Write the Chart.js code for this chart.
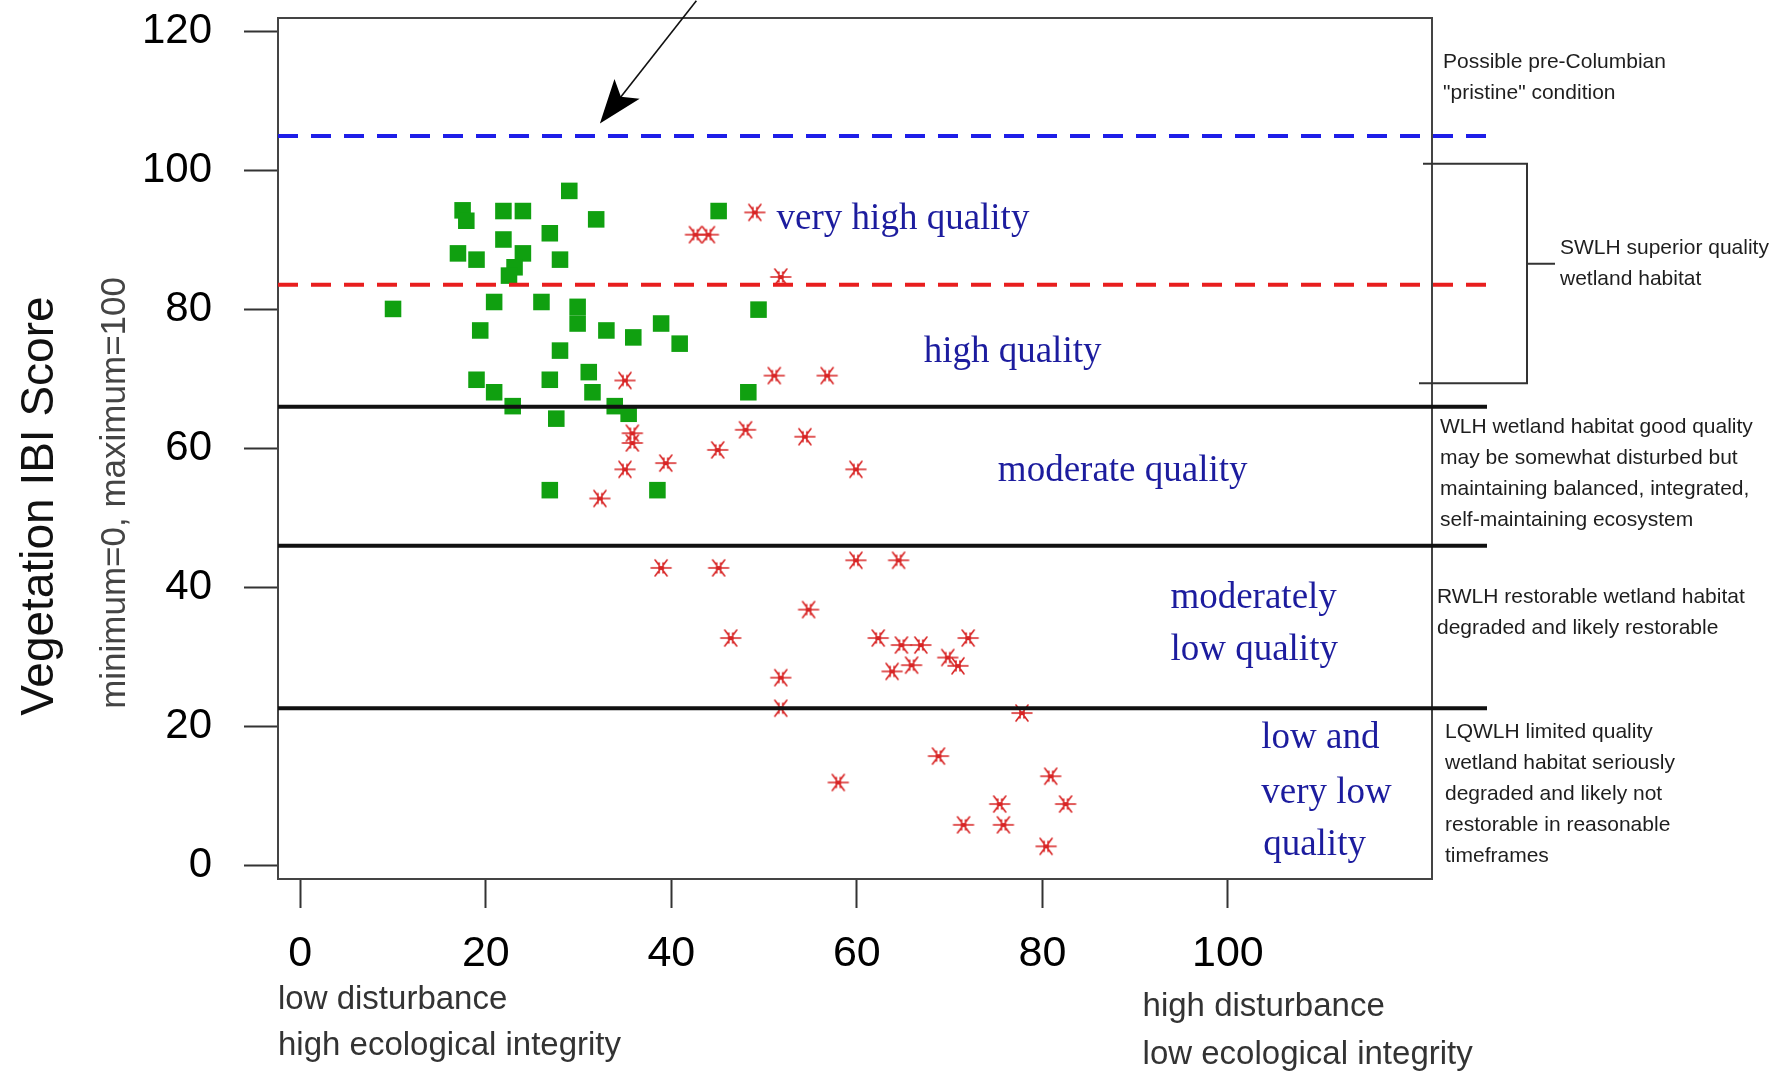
<!DOCTYPE html>
<html>
<head>
<meta charset="utf-8">
<title>Vegetation IBI Score vs disturbance</title>
<script src="https://cdn.jsdelivr.net/npm/chart.js@4.4.1/dist/chart.umd.min.js"></script>
<style>
  html, body { margin: 0; padding: 0; background: #ffffff; }
  #wrap { width: 1778px; height: 1072px; }
  canvas { display: block; }
</style>
</head>
<body>
<div id="wrap"><canvas id="ibi" width="1778" height="1072"></canvas></div>
<script>
// Least-disturbed (reference) wetlands: disturbance score vs vegetation IBI
const referenceX = [29.0, 17.5, 17.9, 21.9, 24.0, 31.9, 45.1, 26.9, 21.9, 17.0,
                    19.0, 24.0, 28.0, 23.1, 22.5, 10.0, 20.9, 26.0, 29.9, 29.9,
                    49.4, 19.4, 33.0, 35.9, 38.9, 40.9, 28.0, 19.0, 26.9, 31.1,
                    20.9, 31.5, 48.3, 22.9, 33.9, 35.4, 27.6, 26.9, 38.5];
const referenceY = [97.1, 94.3, 92.8, 94.2, 94.2, 93.0, 94.2, 91.0, 90.1, 88.1,
                    87.2, 88.1, 87.2, 86.1, 84.9, 80.1, 81.1, 81.1, 80.4, 78.0,
                    80.0, 77.0, 77.0, 76.0, 78.0, 75.1, 74.1, 69.9, 69.9, 71.0,
                    68.1, 68.1, 68.1, 66.1, 66.1, 65.0, 64.3, 54.0, 54.0];

// Other (more disturbed) wetlands
const disturbedX = [49.0, 42.6, 44.0, 51.8, 35.0, 51.1, 56.8, 35.8, 35.8, 48.0,
                    54.4, 45.0, 35.0, 39.4, 32.3, 59.9, 38.9, 45.1, 59.9, 64.5,
                    54.8, 46.4, 62.3, 64.8, 66.9, 72.0, 63.8, 65.9, 69.8, 70.9,
                    51.8, 51.8, 77.8, 68.8, 58.0, 80.9, 75.4, 82.5, 71.5, 75.8,
                    80.4];
const disturbedY = [94.0, 90.8, 90.8, 84.7, 69.8, 70.5, 70.5, 62.2, 60.8, 62.7,
                    61.7, 59.8, 57.0, 57.9, 52.8, 57.0, 42.8, 42.8, 43.9, 43.9,
                    36.8, 32.7, 32.7, 31.7, 31.7, 32.7, 27.9, 28.8, 29.9, 28.7,
                    27.0, 22.6, 21.9, 15.7, 11.9, 12.8, 8.8, 8.8, 5.8, 5.8,
                    2.7];

const xTickValues = [0, 20, 40, 60, 80, 100];
const yTickValues = [0, 20, 40, 60, 80, 100, 120];

// Reference levels on the IBI scale
const pristineLevel = 105;
const superiorLevel = 83.6;
const qualityBreaks = [66, 46, 22.6];

const SANS = '"Liberation Sans", Arial, sans-serif';
const SERIF = '"Liberation Serif", "Times New Roman", serif';

// Asterisk marker (horizontal bar, two diagonals, short double upright)
function makeAsterisk() {
  const c = document.createElement('canvas');
  c.width = 24; c.height = 22;
  const g = c.getContext('2d');
  g.translate(12, 11);
  g.strokeStyle = '#d82424';
  g.lineWidth = 1.6;
  g.lineCap = 'round';
  g.beginPath();
  g.moveTo(-10, 0); g.lineTo(10, 0);
  g.moveTo(-6, -8); g.lineTo(6, 8);
  g.moveTo(-6, 8); g.lineTo(6, -8);
  g.moveTo(-2, -5); g.lineTo(-2, 5);
  g.moveTo(2, -5); g.lineTo(2, 5);
  g.stroke();
  return c;
}

function textLines(ctx, lines, x, y0, step) {
  lines.forEach((t, i) => ctx.fillText(t, x, y0 + i * step));
}

// Frame, reference levels, annotations and axis captions
const overlay = {
  id: 'overlay',
  afterDatasetsDraw(chart) {
    const { ctx, chartArea: a, scales: { x, y } } = chart;
    const ext = a.right + 55;
    ctx.save();

    // plot frame
    ctx.lineWidth = 2;
    ctx.strokeStyle = '#444';
    ctx.strokeRect(a.left, a.top, a.right - a.left, a.bottom - a.top);

    // dashed reference levels
    ctx.lineWidth = 4;
    ctx.setLineDash([20, 13]);
    [[pristineLevel, '#1e1ee8'], [superiorLevel, '#e81e1e']].forEach(([v, col]) => {
      const py = y.getPixelForValue(v);
      ctx.strokeStyle = col;
      ctx.beginPath(); ctx.moveTo(a.left, py); ctx.lineTo(ext, py); ctx.stroke();
    });
    ctx.setLineDash([]);

    // quality class boundaries
    ctx.strokeStyle = '#111';
    ctx.lineWidth = 4;
    qualityBreaks.forEach(v => {
      const py = y.getPixelForValue(v);
      ctx.beginPath(); ctx.moveTo(a.left, py); ctx.lineTo(ext, py); ctx.stroke();
    });

    // arrow pointing at the pristine level
    const tip = [x.getPixelForValue(32.3), y.getPixelForValue(106.8)];
    const tail = [x.getPixelForValue(42.7), y.getPixelForValue(124.5)];
    const dx = tail[0] - tip[0], dy = tail[1] - tip[1];
    const len = Math.hypot(dx, dy);
    const ux = dx / len, uy = dy / len, px = -uy, py = ux;
    ctx.strokeStyle = '#111';
    ctx.lineWidth = 1.6;
    ctx.beginPath();
    ctx.moveTo(tail[0], tail[1]);
    ctx.lineTo(tip[0] + ux * 30, tip[1] + uy * 30);
    ctx.stroke();
    ctx.fillStyle = '#000';
    ctx.beginPath();
    ctx.moveTo(tip[0], tip[1]);
    ctx.lineTo(tip[0] + ux * 44 + px * 16, tip[1] + uy * 44 + py * 16);
    ctx.lineTo(tip[0] + ux * 34, tip[1] + uy * 34);
    ctx.lineTo(tip[0] + ux * 44 - px * 16, tip[1] + uy * 44 - py * 16);
    ctx.closePath();
    ctx.fill();

    // bracket grouping the top two classes
    const bTop = y.getPixelForValue(101), bBot = y.getPixelForValue(69.4), bMid = y.getPixelForValue(86.6);
    const bx = a.right + 95;
    ctx.lineWidth = 2;
    ctx.strokeStyle = '#333';
    ctx.beginPath();
    ctx.moveTo(a.right - 9, bTop); ctx.lineTo(bx, bTop);
    ctx.lineTo(bx, bBot); ctx.lineTo(a.right - 13, bBot);
    ctx.moveTo(bx, bMid); ctx.lineTo(a.right + 123, bMid);
    ctx.stroke();

    // quality class names inside the plot
    ctx.fillStyle = '#1c1c9e';
    ctx.font = '37px ' + SERIF;
    ctx.textAlign = 'left';
    ctx.textBaseline = 'middle';
    [
      ['very high quality', 51.35, 93.0],
      ['high quality', 67.2, 73.9],
      ['moderate quality', 75.2, 56.7],
      ['moderately', 93.8, 38.5],
      ['low quality', 93.8, 31.0],
      ['low and', 103.6, 18.2],
      ['very low', 103.6, 10.3],
      ['quality', 103.8, 2.9]
    ].forEach(([t, vx, vy]) => ctx.fillText(t, x.getPixelForValue(vx), y.getPixelForValue(vy)));

    // class descriptions to the right of the plot
    ctx.fillStyle = '#1e1e1e';
    ctx.font = '21px ' + SANS;
    const step = 31;
    [
      [11, 115.7, ['Possible pre-Columbian', '"pristine" condition']],
      [128, 88.8, ['SWLH superior quality', 'wetland habitat']],
      [8, 63.1, ['WLH wetland habitat good quality', 'may be somewhat disturbed but',
                 'maintaining balanced, integrated,', 'self-maintaining ecosystem']],
      [5, 38.6, ['RWLH restorable wetland habitat', 'degraded and likely restorable']],
      [13, 19.2, ['LQWLH limited quality', 'wetland habitat seriously', 'degraded and likely not',
                  'restorable in reasonable', 'timeframes']]
    ].forEach(([off, v, lines]) => textLines(ctx, lines, a.right + off, y.getPixelForValue(v), step));

    // x-axis end captions
    ctx.fillStyle = '#333';
    ctx.font = '33px ' + SANS;
    textLines(ctx, ['low disturbance', 'high ecological integrity'], a.left, a.bottom + 121, 46);
    textLines(ctx, ['high disturbance', 'low ecological integrity'], x.getPixelForValue(90.8), a.bottom + 128, 48);

    // y-axis title
    ctx.textAlign = 'center';
    ctx.save();
    ctx.translate(40, y.getPixelForValue(51.7));
    ctx.rotate(-Math.PI / 2);
    ctx.fillStyle = '#111';
    ctx.font = '46px ' + SANS;
    ctx.fillText('Vegetation IBI Score', 0, 0);
    ctx.restore();
    ctx.save();
    ctx.translate(115, y.getPixelForValue(53.6));
    ctx.rotate(-Math.PI / 2);
    ctx.fillStyle = '#444';
    ctx.font = '35px ' + SANS;
    ctx.fillText('minimum=0, maximum=100', 0, 0);
    ctx.restore();

    ctx.restore();
  }
};

const toPoints = (xs, ys) => xs.map((v, i) => ({ x: v, y: ys[i] }));

new Chart(document.getElementById('ibi'), {
  type: 'scatter',
  data: {
    datasets: [
      {
        label: 'reference wetlands',
        data: toPoints(referenceX, referenceY),
        pointStyle: 'rect',
        pointRadius: 11.7,
        backgroundColor: '#10a010',
        borderWidth: 0
      },
      {
        label: 'other wetlands',
        data: toPoints(disturbedX, disturbedY),
        pointStyle: makeAsterisk(),
        pointRadius: 11,
        borderWidth: 0
      }
    ]
  },
  options: {
    responsive: false,
    animation: false,
    events: [],
    devicePixelRatio: 1,
    layout: { padding: { left: 0, right: 346, top: 18, bottom: 0 } },
    plugins: { legend: { display: false }, tooltip: { enabled: false } },
    scales: {
      x: {
        type: 'linear',
        min: -2.4,
        max: 122,
        afterBuildTicks: s => { s.ticks = xTickValues.map(v => ({ value: v })); },
        afterFit: s => { s.height = 193; s.paddingLeft = 0; s.paddingRight = 0; },
        border: { display: false },
        grid: { drawOnChartArea: false, drawTicks: true, tickLength: 29, tickWidth: 2, tickColor: '#333' },
        ticks: { font: { family: SANS, size: 43 }, color: '#000', padding: 20, maxRotation: 0, autoSkip: false }
      },
      y: {
        type: 'linear',
        min: -2,
        max: 122,
        afterBuildTicks: s => { s.ticks = yTickValues.map(v => ({ value: v })); },
        afterFit: s => { s.width = 278; s.paddingTop = 0; s.paddingBottom = 0; },
        border: { display: false },
        grid: { drawOnChartArea: false, drawTicks: true, tickLength: 34, tickWidth: 2, tickColor: '#333' },
        ticks: { font: { family: SANS, size: 42 }, color: '#000', padding: 32, autoSkip: false }
      }
    }
  },
  plugins: [overlay]
});
</script>
</body>
</html>
